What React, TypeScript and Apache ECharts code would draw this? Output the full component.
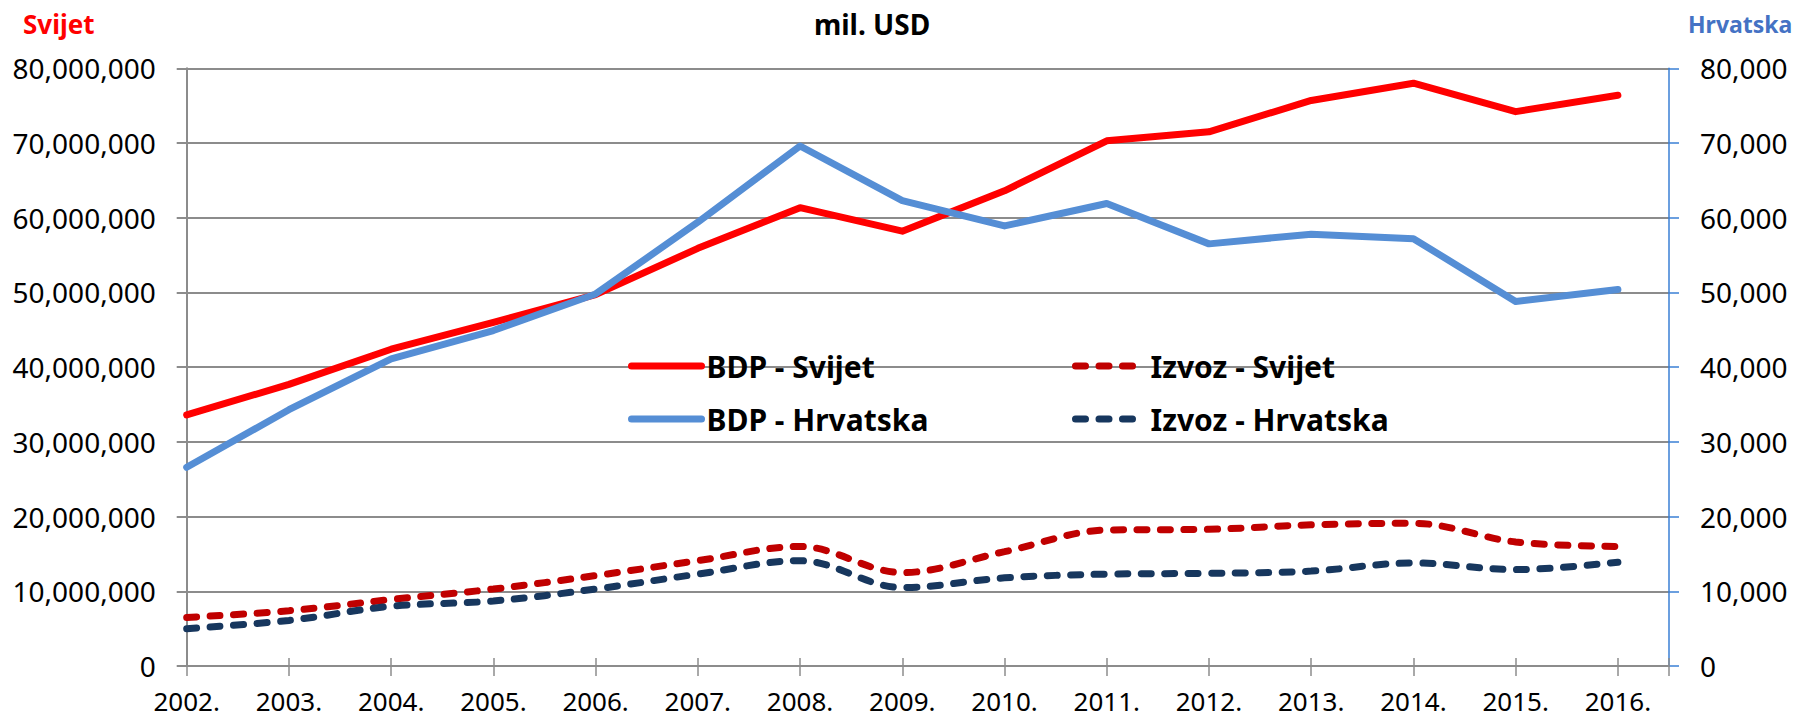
import React, { useEffect, useRef } from "react";
import * as echarts from "echarts";

const years: number[] = [2002, 2003, 2004, 2005, 2006, 2007, 2008, 2009, 2010, 2011, 2012, 2013, 2014, 2015, 2016];
const yearLabels: string[] = years.map((y) => `${y}.`);

// Left axis (Svijet), values in mil. USD
const bdpSvijet: number[] = [33600000, 37700000, 42400000, 46000000, 49700000, 55900000, 61350000, 58200000, 63600000, 70300000, 71500000, 75700000, 78000000, 74200000, 76400000];
const izvozSvijet: number[] = [6500000, 7400000, 8900000, 10300000, 12100000, 14100000, 16000000, 12500000, 15300000, 18200000, 18300000, 18900000, 19100000, 16600000, 16000000];
// Right axis (Hrvatska), values in mil. USD
const bdpHrvatska: number[] = [26600, 34300, 41100, 44900, 49800, 59400, 69600, 62300, 58900, 61900, 56500, 57800, 57200, 48800, 50400];
const izvozHrvatska: number[] = [5000, 6100, 8000, 8700, 10300, 12300, 14100, 10500, 11800, 12300, 12400, 12700, 13800, 12900, 13900];

const leftTicks = { min: 0, max: 80000000, interval: 10000000 };
const rightTicks = { min: 0, max: 80000, interval: 10000 };

const seriesNames = ["BDP - Svijet", "BDP - Hrvatska", "Izvoz - Svijet", "Izvoz - Hrvatska"];

const FONT = '"Noto Sans", "Open Sans", sans-serif';
const GRID_GRAY = "#8c8c8c";

export default function App() {
  const ref = useRef<HTMLDivElement>(null);

  useEffect(() => {
    if (!ref.current) return;
    document.body.style.margin = "0";
    const chart = echarts.init(ref.current, undefined, { renderer: "svg" });

    const pair = (arr: number[]) => years.map((y, i) => [y, arr[i]]);
    const fmt = (v: number) => v.toLocaleString("en-US");
    const yearFmt = (v: number) => {
      const i = years.indexOf(v);
      return i >= 0 ? yearLabels[i] : "";
    };

    const dash = [10, 13.5];

    const legendBase = (name: string, left: number, centerY: number, lineType: any) => ({
      data: [name],
      left,
      top: centerY - 17,
      padding: 0,
      itemWidth: 70,
      itemHeight: 1,
      selectedMode: false,
      itemStyle: { opacity: 0, borderWidth: 0 },
      lineStyle: { width: 7, cap: "round", type: lineType },
      textStyle: { fontSize: 30, fontWeight: "bold", fontFamily: FONT, color: "#000", lineHeight: 34 },
    });

    chart.setOption({
      animation: false,
      backgroundColor: "#fff",
      grid: { left: 186.7, right: 129, top: 68.3, bottom: 55, containLabel: false },
      graphic: [
        {
          type: "text",
          x: 23,
          y: 24,
          style: { text: "Svijet", fill: "#ff0000", fontSize: 26, fontWeight: "bold", fontFamily: FONT, align: "left", verticalAlign: "middle" },
        },
        {
          type: "text",
          x: 872,
          y: 24,
          style: { text: "mil. USD", fill: "#000", fontSize: 28, fontWeight: "bold", fontFamily: FONT, align: "center", verticalAlign: "middle" },
        },
        {
          type: "text",
          x: 1688,
          y: 24,
          style: { text: "Hrvatska", fill: "#4472c4", fontSize: 23, fontWeight: "bold", fontFamily: FONT, align: "left", verticalAlign: "middle" },
        },
      ],
      legend: [
        legendBase(seriesNames[0], 628, 366, "solid"),
        legendBase(seriesNames[1], 628, 419, "solid"),
        legendBase(seriesNames[2], 1072, 366, dash),
        legendBase(seriesNames[3], 1072, 419, dash),
      ],
      xAxis: [
        {
          type: "value",
          min: 2002,
          max: 2016.5,
          interval: 1,
          position: "bottom",
          splitLine: { show: false },
          axisLine: { show: true, lineStyle: { color: GRID_GRAY, width: 2 } },
          axisTick: { show: true, inside: false, length: 10, lineStyle: { color: GRID_GRAY, width: 1.5 } },
          axisLabel: { formatter: yearFmt, margin: 22, fontSize: 26, lineHeight: 26, fontFamily: FONT, color: "#000" },
        },
        {
          type: "value",
          min: 2002,
          max: 2016.5,
          interval: 1,
          position: "bottom",
          splitLine: { show: false },
          axisLine: { show: false },
          axisTick: { show: true, inside: true, length: 8, lineStyle: { color: GRID_GRAY, width: 1.5 } },
          axisLabel: { show: false },
        },
      ],
      yAxis: [
        {
          type: "value",
          position: "left",
          min: leftTicks.min,
          max: leftTicks.max,
          interval: leftTicks.interval,
          axisLine: { show: true, lineStyle: { color: GRID_GRAY, width: 2 } },
          axisTick: { show: true, inside: false, length: 10, lineStyle: { color: GRID_GRAY, width: 2 } },
          splitLine: { show: true, lineStyle: { color: GRID_GRAY, width: 2 } },
          axisLabel: { formatter: fmt, margin: 31, fontSize: 28, fontFamily: FONT, color: "#000" },
        },
        {
          type: "value",
          position: "right",
          min: rightTicks.min,
          max: rightTicks.max,
          interval: rightTicks.interval,
          axisLine: { show: true, lineStyle: { color: "#3a7fd5", width: 1.5 } },
          axisTick: { show: true, inside: false, length: 10, lineStyle: { color: "#3a7fd5", width: 1.5 } },
          splitLine: { show: false },
          axisLabel: { formatter: fmt, margin: 31, fontSize: 28, fontFamily: FONT, color: "#000" },
        },
      ],
      series: [
        {
          name: seriesNames[2],
          type: "line",
          xAxisIndex: 0,
          yAxisIndex: 0,
          data: pair(izvozSvijet),
          symbol: "none",
          showSymbol: false,
          smooth: 0.35,
          lineStyle: { color: "#c00000", width: 7, type: dash, cap: "round" },
          itemStyle: { color: "#c00000" },
        },
        {
          name: seriesNames[3],
          type: "line",
          xAxisIndex: 0,
          yAxisIndex: 1,
          data: pair(izvozHrvatska),
          symbol: "none",
          showSymbol: false,
          smooth: 0.35,
          lineStyle: { color: "#17375e", width: 7, type: dash, cap: "round" },
          itemStyle: { color: "#17375e" },
        },
        {
          name: seriesNames[0],
          type: "line",
          xAxisIndex: 0,
          yAxisIndex: 0,
          data: pair(bdpSvijet),
          symbol: "none",
          showSymbol: false,
          lineStyle: { color: "#ff0000", width: 7, cap: "round", join: "round" },
          itemStyle: { color: "#ff0000" },
        },
        {
          name: seriesNames[1],
          type: "line",
          xAxisIndex: 0,
          yAxisIndex: 1,
          data: pair(bdpHrvatska),
          symbol: "none",
          showSymbol: false,
          lineStyle: { color: "#558ed5", width: 7, cap: "round", join: "round" },
          itemStyle: { color: "#558ed5" },
        },
      ],
    });

    return () => chart.dispose();
  }, []);

  return <div ref={ref} style={{ position: "fixed", left: 0, top: 0, width: 1798, height: 721 }} />;
}
